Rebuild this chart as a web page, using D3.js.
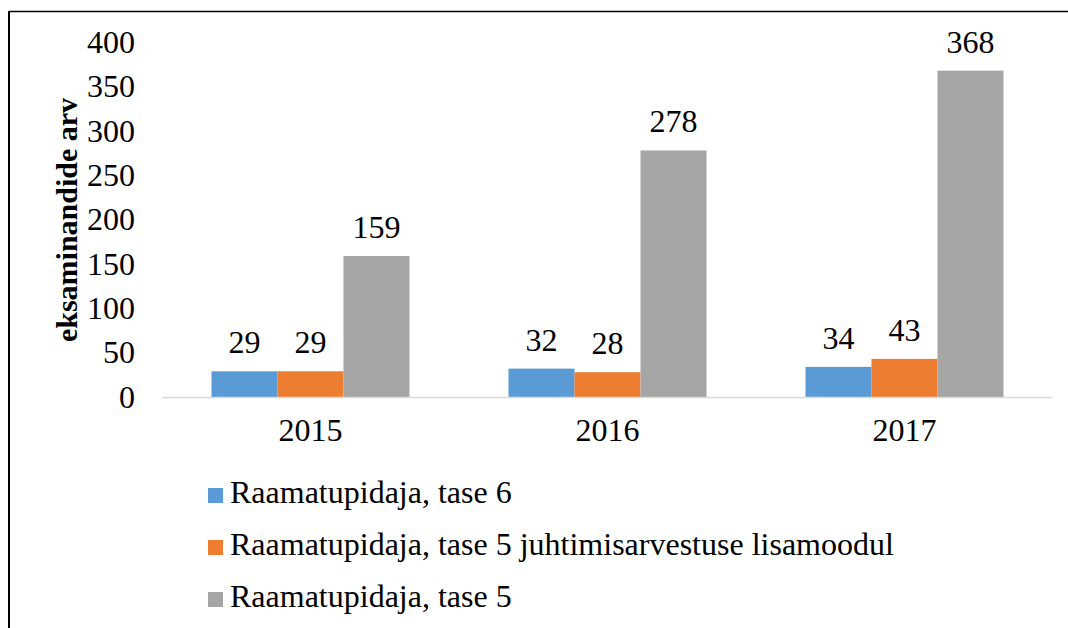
<!DOCTYPE html>
<html>
<head>
<meta charset="utf-8">
<script src="https://cdn.jsdelivr.net/npm/d3@7"></script>
<style>
  body { margin: 0; background: #fff; }
</style>
</head>
<body>
<div id="chart"></div>
<script>
/* DATA */
const years = ["2015", "2016", "2017"];
const seriesNames = [
  "Raamatupidaja, tase 6",
  "Raamatupidaja, tase 5 juhtimisarvestuse lisamoodul",
  "Raamatupidaja, tase 5"
];
const tase6 = [29, 32, 34];
const tase5Lisa = [29, 28, 43];
const tase5 = [159, 278, 368];
const yTicks = [0, 50, 100, 150, 200, 250, 300, 350, 400];
const colors = ["#5b9bd5", "#ed7d31", "#a5a5a5"];

/* LAYOUT */
const width = 1068, height = 628;
const plot = { left: 162, right: 1053, top: 42.3, bottom: 397 };
const serif = "'Liberation Serif'";
const fs = "32px";

const svg = d3.select("#chart").append("svg")
  .attr("width", width)
  .attr("height", height);

// frame lines (only top and left visible)
svg.append("line").attr("x1", 9).attr("x2", width).attr("y1", 11.5).attr("y2", 11.5)
  .attr("stroke", "#000").attr("stroke-width", 1.5);
svg.append("line").attr("x1", 9).attr("x2", 9).attr("y1", 11).attr("y2", height)
  .attr("stroke", "#000").attr("stroke-width", 2);

const series = [tase6, tase5Lisa, tase5];

const x0 = d3.scaleBand().domain(years).range([plot.left, plot.right]).paddingInner(0).paddingOuter(0);
const x1 = d3.scaleBand().domain(d3.range(series.length))
  .range([0, x0.bandwidth()]).paddingOuter(0.75).paddingInner(0);
const y = d3.scaleLinear().domain([0, 400]).range([plot.bottom, plot.top]);

// y axis labels
const yAxis = svg.append("g")
  .attr("transform", `translate(${plot.left},0)`)
  .call(d3.axisLeft(y).tickValues(yTicks).tickSize(0).tickPadding(27));
yAxis.attr("font-family", null).attr("font-size", null);
yAxis.select(".domain").remove();
yAxis.selectAll("text").style("font-size", fs).style("font-family", serif).attr("fill", "#000");

// y title
svg.append("text")
  .attr("transform", `translate(77,220) rotate(-90)`)
  .attr("text-anchor", "middle")
  .style("font-family", serif)
  .style("font-size", "30px")
  .style("font-weight", "bold")
  .text("eksaminandide arv");

// bars
const groups = svg.selectAll("g.year")
  .data(years)
  .join("g")
  .attr("class", "year")
  .attr("transform", d => `translate(${x0(d)},0)`);

groups.selectAll("rect")
  .data((d, i) => series.map((s, k) => ({ k, v: s[i] })))
  .join("rect")
  .attr("x", d => x1(d.k))
  .attr("width", x1.bandwidth())
  .attr("y", d => y(d.v))
  .attr("height", d => y(0) - y(d.v))
  .attr("fill", d => colors[d.k]);

groups.selectAll("text.val")
  .data((d, i) => series.map((s, k) => ({ k, v: s[i] })))
  .join("text")
  .attr("class", "val")
  .attr("x", d => x1(d.k) + x1.bandwidth() / 2)
  .attr("y", d => y(d.v) - 18)
  .attr("text-anchor", "middle")
  .style("font-family", serif)
  .style("font-size", fs)
  .text(d => d.v);

// baseline
svg.append("line")
  .attr("x1", plot.left).attr("x2", plot.right)
  .attr("y1", y(0) + 0.5).attr("y2", y(0) + 0.5)
  .attr("stroke", "#d9d9d9").attr("stroke-width", 1.5);

// x axis labels
const xAxis = svg.append("g")
  .attr("transform", `translate(0,${plot.bottom})`)
  .call(d3.axisBottom(x0).tickSize(0).tickPadding(21));
xAxis.attr("font-family", null).attr("font-size", null);
xAxis.select(".domain").remove();
xAxis.selectAll("text").style("font-size", fs).style("font-family", serif).attr("fill", "#000");

// legend
const legend = svg.selectAll("g.legend")
  .data(seriesNames)
  .join("g")
  .attr("class", "legend")
  .attr("transform", (d, i) => `translate(208,${503 + i * 52})`);

legend.append("rect")
  .attr("x", 0).attr("y", -15)
  .attr("width", 15).attr("height", 15)
  .attr("fill", (d, i) => colors[i]);

legend.append("text")
  .attr("x", 22)
  .attr("y", 0)
  .style("font-family", serif)
  .style("font-size", fs)
  .text(d => d);
</script>
</body>
</html>
